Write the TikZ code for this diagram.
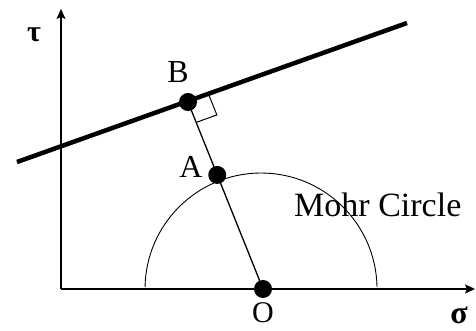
\documentclass[tikz,border=0pt]{standalone}
\usepackage{fontspec}
\setmainfont{Liberation Serif}
\usetikzlibrary{arrows.meta, calc}

\begin{document}
\begin{tikzpicture}[x=1pt, y=1pt,
    dot/.style={circle, fill=black, inner sep=0pt, minimum size=18pt},
    axis/.style={-{Stealth[length=10pt, width=9pt, inset=2pt]}, line width=1.2pt},
    lbl/.style={font=\fontsize{32}{38}\selectfont, inner sep=0pt},
]
\useasboundingbox (0,0) rectangle (476,331);

% Axes
\coordinate (orig) at (61,42);
\coordinate (tautip) at (61,322);
\coordinate (sigtip) at (475,42);
\draw[axis] (orig) -- (tautip);
\draw[axis] (orig) -- (sigtip);
\node[lbl, font=\fontsize{30}{36}\selectfont\bfseries] (tau) at (34,296) {τ};
\node[lbl, font=\fontsize{32}{38}\selectfont\bfseries] (sig) at (459,16) {σ};

% Failure line
\coordinate (fl) at (17,169);
\coordinate (fr) at (407,308);
\draw[line width=4.5pt] (fl) -- (fr);

% Points
\coordinate (Oc) at (263,42);
\coordinate (Bc) at (188,229);
\coordinate (Ac) at ($(Oc)!0.61!(Bc)$);

% Mohr circle
\draw[line width=0.9pt] (377,44) arc[start angle=1, end angle=179, radius=116];
\node[lbl, font=\fontsize{34}{40}\selectfont, anchor=base west] (mohr) at (294,114) {Mohr Circle};

% Normal from O to the line
\draw[line width=1.3pt] (Oc) -- (Bc);
\coordinate (p1) at ($(Bc)!22pt!(Oc)$);
\coordinate (p2) at ($(Bc)!22pt!(fr)$);
\draw[line width=1pt] (p1) -- ($(p1)+(p2)-(Bc)$) -- (p2);

\node[dot] (O) at (Oc) {};
\node[dot] (A) at (Ac) {};
\node[dot] (B) at (Bc) {};

\node[lbl] (labB) at (178,259) {B};
\node[lbl] (labA) at (191,164) {A};
\node[lbl, font=\fontsize{30}{36}\selectfont] (labO) at (263,18) {O};

\end{tikzpicture}
\end{document}
